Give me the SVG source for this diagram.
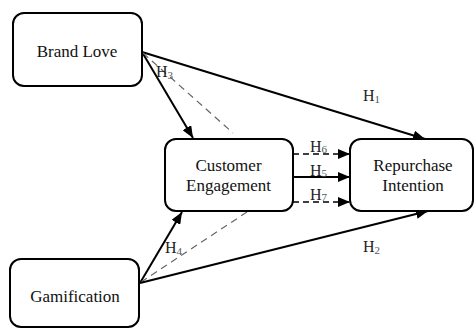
<svg xmlns="http://www.w3.org/2000/svg" width="475" height="329" viewBox="0 0 475 329">
  <style>
    text { font-family: 'Liberation Serif', 'DejaVu Serif', serif; }
    .box { fill: #fff; stroke: #000; stroke-width: 2; }
    .lbl { font-size: 17px; fill: #111; text-anchor: middle; }
    .h { font-size: 16px; fill: #222; }
    .sub { font-size: 11px; fill: #555; }
    .solid { stroke: #000; stroke-width: 2; fill: none; marker-end: url(#arrow); }
    .dash-arr { stroke: #000; stroke-width: 1.3; stroke-dasharray: 6 4; fill: none; marker-end: url(#arrow); }
    .dash { stroke: #666; stroke-width: 1.2; stroke-dasharray: 7 5; fill: none; }
  </style>
  <defs>
    <marker id="arrow" markerUnits="userSpaceOnUse" markerWidth="12" markerHeight="10" refX="12" refY="5" orient="auto">
      <path d="M0,0 L12,5 L0,10 z" fill="#000"/>
    </marker>
  </defs>

  <!-- connectors -->
  <g id="connectors">
    <line class="solid" x1="142" y1="52" x2="425" y2="139"/>
    <line class="solid" x1="142" y1="52" x2="193" y2="138"/>
    <line class="dash" x1="143" y1="53" x2="233" y2="133"/>
    <line class="solid" x1="140" y1="283" x2="182" y2="212"/>
    <line class="dash" x1="141" y1="282" x2="247" y2="212"/>
    <line class="solid" x1="140" y1="283" x2="428" y2="211"/>
    <line class="dash-arr" x1="293" y1="154" x2="350" y2="154"/>
    <line class="solid" x1="293" y1="177" x2="350" y2="177"/>
    <line class="dash-arr" x1="293" y1="202" x2="350" y2="202"/>
  </g>

  <!-- hypothesis labels -->
  <g id="labels">
    <text class="h" x="363" y="101">H<tspan class="sub" dy="2">1</tspan></text>
    <text class="h" x="363" y="252">H<tspan class="sub" dy="2">2</tspan></text>
    <text class="h" x="156" y="77">H<tspan class="sub" dy="2">3</tspan></text>
    <text class="h" x="165" y="253">H<tspan class="sub" dy="2">4</tspan></text>
    <text class="h" x="310" y="176">H<tspan class="sub" dy="1">5</tspan></text>
    <text class="h" x="310" y="152">H<tspan class="sub" dy="1">6</tspan></text>
    <text class="h" x="310" y="200">H<tspan class="sub" dy="1">7</tspan></text>
  </g>

  <g id="brand-love">
    <rect class="box" x="13" y="13" width="129" height="73" rx="11"/>
    <text class="lbl" x="77" y="57">Brand Love</text>
  </g>

  <g id="customer-engagement">
    <rect class="box" x="165" y="139" width="128" height="72" rx="11"/>
    <text class="lbl" x="228.5" y="171">Customer</text>
    <text class="lbl" x="228.5" y="191">Engagement</text>
  </g>

  <g id="repurchase-intention">
    <rect class="box" x="350" y="139" width="123" height="72" rx="11"/>
    <text class="lbl" x="413" y="171">Repurchase</text>
    <text class="lbl" x="413" y="191">Intention</text>
  </g>

  <g id="gamification">
    <rect class="box" x="10" y="259" width="129" height="68" rx="11"/>
    <text class="lbl" x="75" y="302">Gamification</text>
  </g>
</svg>
